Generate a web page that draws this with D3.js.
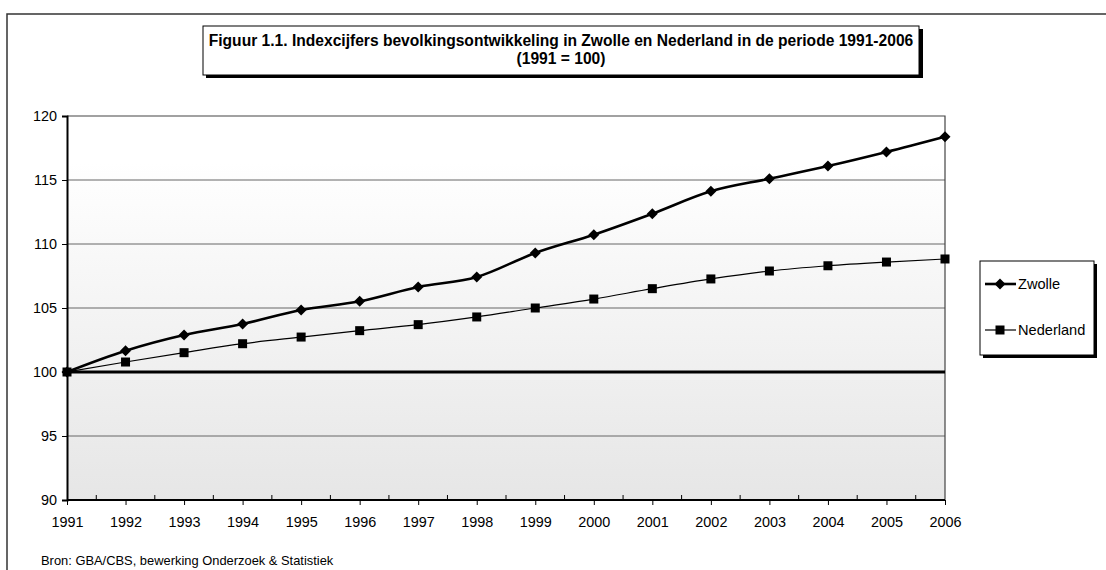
<!DOCTYPE html>
<html><head><meta charset="utf-8">
<script src="https://cdn.jsdelivr.net/npm/d3@7"></script>
<style>body{margin:0;background:#fff}svg{display:block;font-family:"Liberation Sans",Arial,sans-serif}</style>
</head><body><svg id="c" width="1106" height="570"></svg>
<script>
const years = [1991,1992,1993,1994,1995,1996,1997,1998,1999,2000,2001,2002,2003,2004,2005,2006];
const zwolle = [100,101.66,102.89,103.75,104.84,105.52,106.64,107.42,109.30,110.73,112.37,114.12,115.10,116.09,117.19,118.38];
const nederland = [100,100.78,101.51,102.21,102.73,103.23,103.70,104.30,105.00,105.70,106.51,107.27,107.89,108.30,108.59,108.83];
const yTicks = [90,95,100,105,110,115,120];
const titleLines = ["Figuur 1.1. Indexcijfers bevolkingsontwikkeling in Zwolle en Nederland in de periode 1991-2006","(1991 = 100)"];
const seriesNames = ["Zwolle","Nederland"];
const sourceText = "Bron: GBA/CBS, bewerking Onderzoek & Statistiek";

const FF = "'Liberation Sans', Arial, sans-serif";
const svg = d3.select("#c");
const L=67,R=945,T=116,B=500;
const x = d3.scaleLinear().domain([1991,2006]).range([L,R]);
const y = d3.scaleLinear().domain([90,120]).range([B,T]);

// outer frame
svg.append("path").attr("d","M7,570V14H1106").attr("fill","none").attr("stroke","#333").attr("stroke-width",1.5);

// gradient
const defs=svg.append("defs");
const g=defs.append("linearGradient").attr("id","bg").attr("x1",0).attr("y1",0).attr("x2",0).attr("y2",1);
g.append("stop").attr("offset","0").attr("stop-color","#ffffff");
g.append("stop").attr("offset","0.12").attr("stop-color","#ffffff");
g.append("stop").attr("offset","1").attr("stop-color","#e6e6e6");
svg.append("rect").attr("x",L).attr("y",T).attr("width",R-L).attr("height",B-T).attr("fill","url(#bg)");

// gridlines
svg.append("g").selectAll("line").data(yTicks.filter(v=>v!==90&&v!==100&&v!==120)).join("line")
  .attr("x1",L).attr("x2",R).attr("y1",d=>y(d)).attr("y2",d=>y(d)).attr("stroke","#666").attr("stroke-width",1);
// plot top/right border
svg.append("path").attr("d",`M${L},${T}H${R}V${B}`).attr("fill","none").attr("stroke","#444").attr("stroke-width",1.2);
// 100 line
svg.append("line").attr("x1",L).attr("x2",R).attr("y1",y(100)).attr("y2",y(100)).attr("stroke","#000").attr("stroke-width",3);

// axes
const yAxis = d3.axisLeft(y).tickValues(yTicks).tickSize(5).tickPadding(5).tickFormat(d3.format("d"));
const ya = svg.append("g").attr("transform",`translate(${L},0)`).call(yAxis);
ya.select(".domain").attr("stroke","#000").attr("stroke-width",2);
ya.selectAll(".tick line").attr("stroke","#000");
ya.selectAll("text").attr("font-size",14.4).attr("fill","#000").attr("font-family",FF);

const xAxis = d3.axisBottom(x).tickValues(years).tickSize(5).tickPadding(12).tickFormat(d3.format("d"));
const xa = svg.append("g").attr("transform",`translate(0,${B})`).call(xAxis);
xa.select(".domain").attr("stroke","#000").attr("stroke-width",2).attr("d",`M${L},0H${R}`);
xa.selectAll(".tick line").attr("stroke","#000");
xa.selectAll("text").attr("font-size",14.4).attr("fill","#000").attr("font-family",FF);
// minor inward ticks
svg.append("g").selectAll("line").data(years.slice(0,-1)).join("line")
  .attr("x1",d=>x(d+0.5)).attr("x2",d=>x(d+0.5)).attr("y1",B).attr("y2",B-5).attr("stroke","#000");

// lines
const data = [zwolle,nederland];
const widths=[2.6,1.2];
const line = d3.line().x((d,i)=>x(years[i])).y(d=>y(d)).curve(d3.curveMonotoneX);
data.forEach((s,k)=>{
  svg.append("path").attr("d",line(s)).attr("fill","none").attr("stroke","#000").attr("stroke-width",widths[k]);
});
const diamond = s=>`M0,${-s}L${s},0L0,${s}L${-s},0Z`;
svg.append("g").selectAll("path").data(zwolle).join("path")
  .attr("transform",(d,i)=>`translate(${x(years[i])},${y(d)})`).attr("d",diamond(5.5)).attr("fill","#000");
svg.append("g").selectAll("rect").data(nederland).join("rect")
  .attr("x",(d,i)=>x(years[i])-4.5).attr("y",d=>y(d)-4.5).attr("width",9).attr("height",9).attr("fill","#000");

// title box
svg.append("rect").attr("x",206).attr("y",29).attr("width",717).attr("height",49).attr("fill","#000");
svg.append("rect").attr("x",203).attr("y",26).attr("width",716).attr("height",49).attr("fill","#fff").attr("stroke","#000").attr("stroke-width",1);
svg.append("g").selectAll("text").data(titleLines).join("text")
  .attr("x",561).attr("y",(d,i)=>46+i*18).attr("text-anchor","middle").attr("font-size",15.6).attr("font-weight","bold").attr("font-family",FF).text(d=>d);

// legend
svg.append("rect").attr("x",983).attr("y",264).attr("width",114).attr("height",94).attr("fill","#000");
svg.append("rect").attr("x",980).attr("y",261).attr("width",114).attr("height",94).attr("fill","#fff").attr("stroke","#000").attr("stroke-width",1);
const ly=[284,330];
seriesNames.forEach((n,k)=>{
  svg.append("line").attr("x1",985).attr("x2",1016).attr("y1",ly[k]).attr("y2",ly[k]).attr("stroke","#000").attr("stroke-width",widths[k]);
  if(k===0) svg.append("path").attr("transform",`translate(1000,${ly[k]})`).attr("d",diamond(5.5)).attr("fill","#000");
  else svg.append("rect").attr("x",995.5).attr("y",ly[k]-4.5).attr("width",9).attr("height",9).attr("fill","#000");
  svg.append("text").attr("x",1018).attr("y",ly[k]+5).attr("font-size",14.6).attr("font-family",FF).text(n);
});

// source
svg.append("text").attr("x",41).attr("y",565).attr("font-size",12.9).attr("font-family",FF).text(sourceText);
</script></body></html>
